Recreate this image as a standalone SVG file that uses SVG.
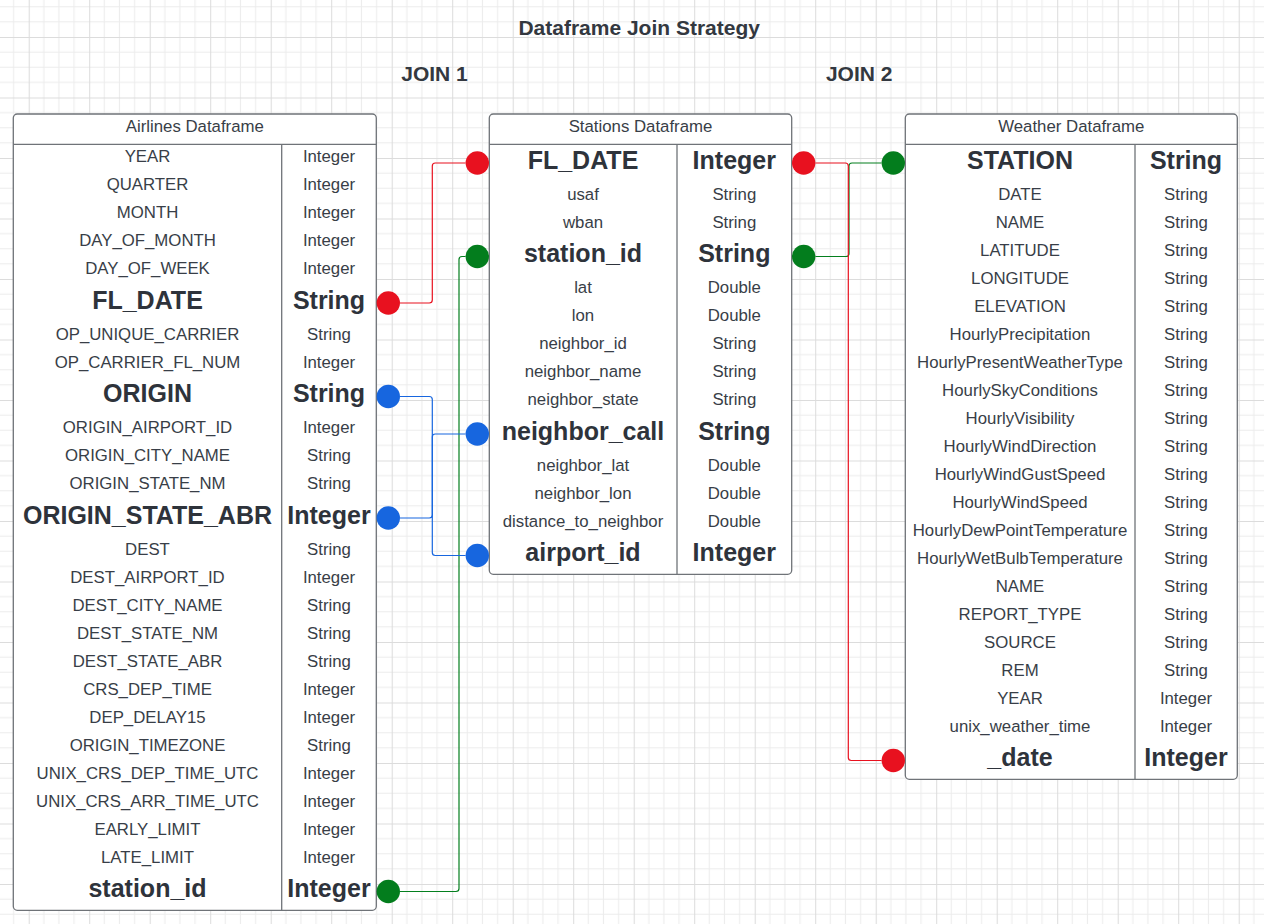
<svg xmlns="http://www.w3.org/2000/svg" width="1264" height="924" viewBox="0 0 1264 924">
<defs>
<pattern id="grid" patternUnits="userSpaceOnUse" x="28.7" y="37" width="60.5" height="60.5">
<rect width="60.5" height="60.5" fill="#ffffff"/>
<path d="M15.125,0V60.5M30.25,0V60.5M45.375,0V60.5M0,15.125H60.5M0,30.25H60.5M0,45.375H60.5" stroke="#ececec" stroke-width="1" fill="none"/>
<path d="M0.5,0V60.5M0,0.5H60.5" stroke="#dcdcdc" stroke-width="1" fill="none"/>
</pattern>
<style>
.tb{fill:#ffffff;stroke:#6f7378;stroke-width:1.3}
.ln{stroke:#6f7378;stroke-width:1.3;fill:none}
text{font-family:"Liberation Sans",Arial,Helvetica,sans-serif;fill:#383e47;text-anchor:middle}
.t{font-size:16.8px}
.b{font-size:25px;font-weight:bold;fill:#2e333b}
.ttl{font-size:21px;font-weight:bold;fill:#333840}
.c{fill:none;stroke-width:1.2}
.red{stroke:#e8111f}
.grn{stroke:#047f1e}
.blu{stroke:#1766df}
.dr{fill:#e8111f}
.dg{fill:#037d1d}
.db{fill:#1766df}
</style>
</defs>
<rect x="0" y="0" width="1264" height="924" fill="url(#grid)"/>

<g id="titles">
<text class="ttl" x="639.2" y="35">Dataframe Join Strategy</text>
<text class="ttl" x="434.5" y="80.7">JOIN 1</text>
<text class="ttl" x="859.2" y="80.7">JOIN 2</text>
</g>

<g id="airlines">
<rect class="tb" x="13.3" y="114" width="363" height="796.3" rx="4"/>
<line class="ln" x1="13.3" y1="144.3" x2="376.3" y2="144.3"/>
<line class="ln" x1="281.7" y1="144.3" x2="281.7" y2="910.3"/>
<text class="t" x="194.8" y="132.3">Airlines Dataframe</text>
<g>
<text class="t" x="147.5" y="162.3">YEAR</text><text class="t" x="329" y="162.3">Integer</text>
<text class="t" x="147.5" y="190.3">QUARTER</text><text class="t" x="329" y="190.3">Integer</text>
<text class="t" x="147.5" y="218.3">MONTH</text><text class="t" x="329" y="218.3">Integer</text>
<text class="t" x="147.5" y="246.3">DAY_OF_MONTH</text><text class="t" x="329" y="246.3">Integer</text>
<text class="t" x="147.5" y="274.3">DAY_OF_WEEK</text><text class="t" x="329" y="274.3">Integer</text>
<text class="b" x="147.5" y="308.7">FL_DATE</text><text class="b" x="329" y="308.7">String</text>
<text class="t" x="147.5" y="339.8">OP_UNIQUE_CARRIER</text><text class="t" x="329" y="339.8">String</text>
<text class="t" x="147.5" y="367.8">OP_CARRIER_FL_NUM</text><text class="t" x="329" y="367.8">Integer</text>
<text class="b" x="147.5" y="402.2">ORIGIN</text><text class="b" x="329" y="402.2">String</text>
<text class="t" x="147.5" y="433.3">ORIGIN_AIRPORT_ID</text><text class="t" x="329" y="433.3">Integer</text>
<text class="t" x="147.5" y="461.3">ORIGIN_CITY_NAME</text><text class="t" x="329" y="461.3">String</text>
<text class="t" x="147.5" y="489.3">ORIGIN_STATE_NM</text><text class="t" x="329" y="489.3">String</text>
<text class="b" x="147.5" y="523.7">ORIGIN_STATE_ABR</text><text class="b" x="329" y="523.7">Integer</text>
<text class="t" x="147.5" y="554.8">DEST</text><text class="t" x="329" y="554.8">String</text>
<text class="t" x="147.5" y="582.8">DEST_AIRPORT_ID</text><text class="t" x="329" y="582.8">Integer</text>
<text class="t" x="147.5" y="610.8">DEST_CITY_NAME</text><text class="t" x="329" y="610.8">String</text>
<text class="t" x="147.5" y="638.8">DEST_STATE_NM</text><text class="t" x="329" y="638.8">String</text>
<text class="t" x="147.5" y="666.8">DEST_STATE_ABR</text><text class="t" x="329" y="666.8">String</text>
<text class="t" x="147.5" y="694.8">CRS_DEP_TIME</text><text class="t" x="329" y="694.8">Integer</text>
<text class="t" x="147.5" y="722.8">DEP_DELAY15</text><text class="t" x="329" y="722.8">Integer</text>
<text class="t" x="147.5" y="750.8">ORIGIN_TIMEZONE</text><text class="t" x="329" y="750.8">String</text>
<text class="t" x="147.5" y="778.8">UNIX_CRS_DEP_TIME_UTC</text><text class="t" x="329" y="778.8">Integer</text>
<text class="t" x="147.5" y="806.8">UNIX_CRS_ARR_TIME_UTC</text><text class="t" x="329" y="806.8">Integer</text>
<text class="t" x="147.5" y="834.8">EARLY_LIMIT</text><text class="t" x="329" y="834.8">Integer</text>
<text class="t" x="147.5" y="862.8">LATE_LIMIT</text><text class="t" x="329" y="862.8">Integer</text>
<text class="b" x="147.5" y="897.2">station_id</text><text class="b" x="329" y="897.2">Integer</text>
</g>
</g>

<g id="stations">
<rect class="tb" x="489.3" y="114" width="302.4" height="460.3" rx="4"/>
<line class="ln" x1="489.3" y1="144.3" x2="791.7" y2="144.3"/>
<line class="ln" x1="677" y1="144.3" x2="677" y2="574.3"/>
<text class="t" x="640.5" y="132.3">Stations Dataframe</text>
<text class="b" x="583" y="168.7">FL_DATE</text><text class="b" x="734.3" y="168.7">Integer</text>
<text class="t" x="583" y="199.8">usaf</text><text class="t" x="734.3" y="199.8">String</text>
<text class="t" x="583" y="227.8">wban</text><text class="t" x="734.3" y="227.8">String</text>
<text class="b" x="583" y="262.2">station_id</text><text class="b" x="734.3" y="262.2">String</text>
<text class="t" x="583" y="293.3">lat</text><text class="t" x="734.3" y="293.3">Double</text>
<text class="t" x="583" y="321.3">lon</text><text class="t" x="734.3" y="321.3">Double</text>
<text class="t" x="583" y="349.3">neighbor_id</text><text class="t" x="734.3" y="349.3">String</text>
<text class="t" x="583" y="377.3">neighbor_name</text><text class="t" x="734.3" y="377.3">String</text>
<text class="t" x="583" y="405.3">neighbor_state</text><text class="t" x="734.3" y="405.3">String</text>
<text class="b" x="583" y="439.7">neighbor_call</text><text class="b" x="734.3" y="439.7">String</text>
<text class="t" x="583" y="470.8">neighbor_lat</text><text class="t" x="734.3" y="470.8">Double</text>
<text class="t" x="583" y="498.8">neighbor_lon</text><text class="t" x="734.3" y="498.8">Double</text>
<text class="t" x="583" y="526.8">distance_to_neighbor</text><text class="t" x="734.3" y="526.8">Double</text>
<text class="b" x="583" y="561.2">airport_id</text><text class="b" x="734.3" y="561.2">Integer</text>
</g>

<g id="weather">
<rect class="tb" x="905.3" y="114" width="332" height="665.3" rx="4"/>
<line class="ln" x1="905.3" y1="144.3" x2="1237.3" y2="144.3"/>
<line class="ln" x1="1135" y1="144.3" x2="1135" y2="779.3"/>
<text class="t" x="1071.3" y="132.3">Weather Dataframe</text>
<text class="b" x="1020" y="168.7">STATION</text><text class="b" x="1186" y="168.7">String</text>
<text class="t" x="1020" y="199.8">DATE</text><text class="t" x="1186" y="199.8">String</text>
<text class="t" x="1020" y="227.8">NAME</text><text class="t" x="1186" y="227.8">String</text>
<text class="t" x="1020" y="255.8">LATITUDE</text><text class="t" x="1186" y="255.8">String</text>
<text class="t" x="1020" y="283.8">LONGITUDE</text><text class="t" x="1186" y="283.8">String</text>
<text class="t" x="1020" y="311.8">ELEVATION</text><text class="t" x="1186" y="311.8">String</text>
<text class="t" x="1020" y="339.8">HourlyPrecipitation</text><text class="t" x="1186" y="339.8">String</text>
<text class="t" x="1020" y="367.8">HourlyPresentWeatherType</text><text class="t" x="1186" y="367.8">String</text>
<text class="t" x="1020" y="395.8">HourlySkyConditions</text><text class="t" x="1186" y="395.8">String</text>
<text class="t" x="1020" y="423.8">HourlyVisibility</text><text class="t" x="1186" y="423.8">String</text>
<text class="t" x="1020" y="451.8">HourlyWindDirection</text><text class="t" x="1186" y="451.8">String</text>
<text class="t" x="1020" y="479.8">HourlyWindGustSpeed</text><text class="t" x="1186" y="479.8">String</text>
<text class="t" x="1020" y="507.8">HourlyWindSpeed</text><text class="t" x="1186" y="507.8">String</text>
<text class="t" x="1020" y="535.8">HourlyDewPointTemperature</text><text class="t" x="1186" y="535.8">String</text>
<text class="t" x="1020" y="563.8">HourlyWetBulbTemperature</text><text class="t" x="1186" y="563.8">String</text>
<text class="t" x="1020" y="591.8">NAME</text><text class="t" x="1186" y="591.8">String</text>
<text class="t" x="1020" y="619.8">REPORT_TYPE</text><text class="t" x="1186" y="619.8">String</text>
<text class="t" x="1020" y="647.8">SOURCE</text><text class="t" x="1186" y="647.8">String</text>
<text class="t" x="1020" y="675.8">REM</text><text class="t" x="1186" y="675.8">String</text>
<text class="t" x="1020" y="703.8">YEAR</text><text class="t" x="1186" y="703.8">Integer</text>
<text class="t" x="1020" y="731.8">unix_weather_time</text><text class="t" x="1186" y="731.8">Integer</text>
<text class="b" x="1020" y="766.2">_date</text><text class="b" x="1186" y="766.2">Integer</text>
</g>

<g id="connectors">
<path class="c red" d="M400,303 H429.3 Q432.3,303 432.3,300 V166 Q432.3,163 435.3,163 H465.6"/>
<path class="c grn" d="M465.6,256.5 H462 Q459,256.5 459,259.5 V888.5 Q459,891.5 456,891.5 H400"/>
<path class="c blu" d="M400,396.5 H429.3 Q432.3,396.5 432.3,399.5 V552.5 Q432.3,555.5 435.3,555.5 H465.6"/>
<path class="c blu" d="M400,518 H429.3 Q432.3,518 432.3,515 V437 Q432.3,434 435.3,434 H465.6"/>
<path class="c grn" d="M881.6,163 H852 Q849,163 849,166 V253.5 Q849,256.5 846,256.5 H815.4"/>
<path class="c red" d="M815.4,163 H845.3 Q848.3,163 848.3,166 V757.5 Q848.3,760.5 851.3,760.5 H881.6"/>
<circle class="dr" cx="388.3" cy="303" r="11.7"/>
<circle class="dr" cx="477.3" cy="163" r="11.7"/>
<circle class="dg" cx="477.3" cy="256.5" r="11.7"/>
<circle class="dg" cx="388.3" cy="891.5" r="11.7"/>
<circle class="db" cx="388.3" cy="396.5" r="11.7"/>
<circle class="db" cx="388.3" cy="518" r="11.7"/>
<circle class="db" cx="477.3" cy="434" r="11.7"/>
<circle class="db" cx="477.3" cy="555.5" r="11.7"/>
<circle class="dr" cx="803.7" cy="163" r="11.7"/>
<circle class="dg" cx="803.7" cy="256.5" r="11.7"/>
<circle class="dg" cx="893.3" cy="163" r="11.7"/>
<circle class="dr" cx="893.3" cy="760.5" r="11.7"/>
</g>
</svg>
